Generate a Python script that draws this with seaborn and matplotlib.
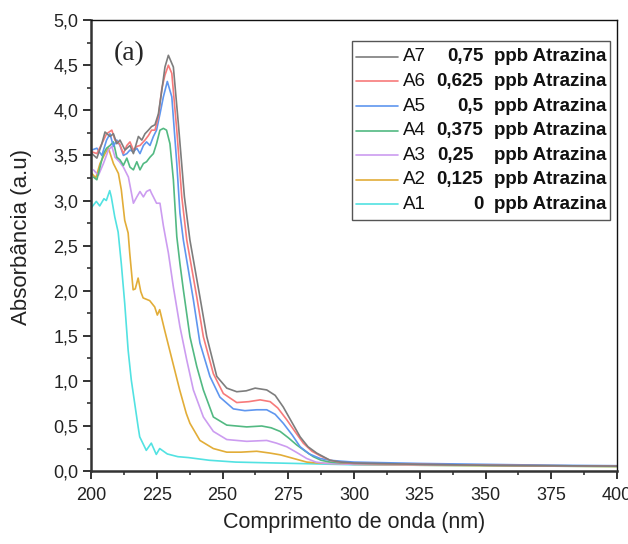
import numpy as np
import pandas as pd
import seaborn as sns
import matplotlib
matplotlib.use("Agg")
import matplotlib.pyplot as plt
from matplotlib.ticker import MultipleLocator, FuncFormatter
from matplotlib.offsetbox import AnchoredOffsetbox, VPacker, DrawingArea
from matplotlib.lines import Line2D
from matplotlib.text import Text

# ---------------- data ----------------
samples = ["A7", "A6", "A5", "A4", "A3", "A2", "A1"]
concentrations = ["0,75", "0,625", "0,5", "0,375", "0,25", "0,125", "0"]
unit_label = "ppb Atrazina"
colors = ["#7d7d7d", "#f77a7a", "#5f96ef", "#52b982", "#cc9cf0", "#e2ad38", "#52e2e2"]

a7_x = [200.3, 202.2, 204.1, 205.3, 207.2, 208.5, 209.8, 211.0, 212.9, 214.8, 216.1, 218.0,
        219.3, 220.5, 221.8, 223.0, 224.3, 225.6, 226.9, 228.1, 229.4, 231.3, 233.2, 235.5,
        237.6, 241.4, 244.0, 247.8, 251.6, 255.4, 259.0, 262.4, 266.8, 270.0, 273.1, 276.0,
        279.5, 282.5, 285.8, 290.9, 295.0, 300.0, 325.0, 350.0, 375.0, 400.0]
a7_y = [3.52, 3.47, 3.63, 3.76, 3.71, 3.74, 3.63, 3.67, 3.56, 3.61, 3.52, 3.71,
        3.67, 3.74, 3.78, 3.82, 3.84, 3.96, 4.22, 4.48, 4.61, 4.48, 3.85, 3.04,
        2.56, 1.93, 1.49, 1.05, 0.92, 0.88, 0.89, 0.92, 0.90, 0.84, 0.71, 0.56,
        0.38, 0.27, 0.20, 0.12, 0.10, 0.09, 0.075, 0.065, 0.06, 0.055]

a6_x = [200.3, 202.2, 204.1, 205.9, 207.9, 209.1, 210.8, 212.3, 213.6, 214.8, 216.1, 217.4,
        218.6, 220.5, 221.8, 223.0, 224.3, 225.6, 226.9, 228.1, 229.4, 230.7, 232.6, 234.5,
        236.4, 240.2, 242.7, 246.5, 250.3, 255.4, 260.0, 264.3, 268.1, 271.0, 274.4, 277.5,
        280.7, 284.0, 287.1, 290.9, 295.0, 300.0, 325.0, 350.0, 375.0, 400.0]
a6_y = [3.54, 3.52, 3.63, 3.74, 3.78, 3.67, 3.63, 3.52, 3.61, 3.65, 3.56, 3.60,
        3.61, 3.67, 3.72, 3.78, 3.78, 3.93, 4.24, 4.39, 4.50, 4.41, 3.78, 3.04,
        2.56, 1.93, 1.49, 1.08, 0.86, 0.76, 0.77, 0.79, 0.77, 0.70, 0.57, 0.44,
        0.31, 0.22, 0.17, 0.12, 0.095, 0.085, 0.075, 0.065, 0.06, 0.055]

a5_x = [200.3, 202.2, 204.1, 205.9, 207.2, 208.5, 209.8, 211.0, 212.3, 213.6, 214.8, 216.1,
        217.4, 218.6, 219.9, 221.1, 222.4, 223.7, 224.9, 226.2, 227.5, 229.0, 230.7, 232.6,
        233.8, 235.1, 238.9, 241.4, 245.2, 249.0, 254.1, 258.5, 263.0, 266.8, 270.0, 273.1,
        276.5, 279.5, 283.0, 287.1, 290.9, 295.0, 300.0, 325.0, 350.0, 375.0, 400.0]
a5_y = [3.56, 3.58, 3.50, 3.67, 3.74, 3.60, 3.67, 3.61, 3.50, 3.52, 3.56, 3.54,
        3.58, 3.52, 3.61, 3.65, 3.61, 3.71, 3.78, 3.96, 4.15, 4.32, 4.15, 3.41,
        2.86, 2.56, 1.90, 1.42, 1.05, 0.82, 0.69, 0.67, 0.68, 0.68, 0.63, 0.53,
        0.40, 0.27, 0.19, 0.14, 0.12, 0.11, 0.10, 0.085, 0.075, 0.065, 0.06]

a4_x = [200.9, 202.2, 203.4, 204.7, 205.9, 207.2, 208.5, 209.8, 211.0, 212.3, 213.6, 214.8,
        216.1, 217.4, 218.6, 219.9, 221.1, 222.4, 223.7, 224.9, 226.2, 227.5, 228.7, 230.0,
        231.3, 232.6, 233.8, 235.1, 237.6, 240.2, 242.7, 246.5, 251.6, 259.2, 264.9, 268.5,
        271.9, 275.0, 278.2, 281.5, 284.5, 287.5, 290.9, 295.0, 300.0, 325.0, 350.0, 375.0, 400.0]
a4_y = [3.26, 3.23, 3.37, 3.52, 3.58, 3.61, 3.65, 3.48, 3.45, 3.39, 3.47, 3.37,
        3.34, 3.43, 3.34, 3.41, 3.43, 3.48, 3.52, 3.63, 3.78, 3.80, 3.78, 3.63,
        3.23, 2.60, 2.30, 2.01, 1.49, 1.16, 0.90, 0.60, 0.51, 0.49, 0.50, 0.48,
        0.44, 0.37, 0.29, 0.22, 0.16, 0.12, 0.10, 0.09, 0.085, 0.075, 0.065, 0.06, 0.055]

a3_x = [200.9, 202.8, 204.7, 206.6, 207.9, 209.1, 210.8, 212.3, 214.2, 216.1, 217.4, 218.6,
        219.9, 221.1, 222.4, 223.0, 223.7, 224.9, 226.2, 227.5, 228.5, 229.4, 231.3, 233.8,
        236.4, 238.9, 242.7, 246.5, 251.6, 259.2, 266.8, 270.5, 274.4, 278.0, 282.0, 285.5,
        289.6, 295.0, 300.0, 325.0, 350.0, 375.0, 400.0]
a3_y = [3.34, 3.28, 3.41, 3.56, 3.60, 3.48, 3.43, 3.37, 3.26, 2.97, 3.04, 3.10,
        3.04, 3.10, 3.12, 3.08, 3.04, 2.97, 2.97, 2.72, 2.56, 2.42, 2.04, 1.60,
        1.23, 0.90, 0.60, 0.44, 0.35, 0.33, 0.34, 0.31, 0.27, 0.21, 0.14, 0.10,
        0.085, 0.08, 0.075, 0.07, 0.065, 0.06, 0.055]

a2_x = [200.3, 201.8, 203.4, 205.3, 206.6, 208.5, 210.4, 211.5, 212.8, 214.1, 214.7, 215.3,
        216.0, 216.8, 217.9, 218.9, 219.8, 222.3, 224.2, 225.2, 226.1, 228.0, 229.9, 231.8,
        233.7, 236.2, 237.6, 241.4, 246.5, 251.6, 257.0, 263.0, 268.0, 272.0, 277.0, 282.0,
        286.0, 290.9, 300.0, 325.0, 350.0, 375.0, 400.0]
a2_y = [3.30, 3.25, 3.41, 3.52, 3.58, 3.41, 3.30, 3.12, 2.78, 2.64, 2.42, 2.23,
        2.01, 2.02, 2.14, 1.99, 1.92, 1.89, 1.82, 1.73, 1.79, 1.56, 1.34, 1.12,
        0.90, 0.64, 0.53, 0.34, 0.25, 0.21, 0.21, 0.22, 0.20, 0.18, 0.14, 0.10,
        0.09, 0.085, 0.075, 0.065, 0.06, 0.055, 0.05]

a1_x = [200.1, 202.0, 203.3, 204.9, 205.8, 207.1, 207.7, 209.0, 210.3, 211.5, 212.8, 214.1,
        215.3, 216.6, 217.9, 218.5, 221.0, 222.9, 224.8, 226.1, 229.0, 233.0, 237.0, 245.0,
        255.0, 270.0, 285.0, 300.0, 325.0, 350.0, 375.0, 400.0]
a1_y = [2.92, 2.99, 2.94, 3.02, 3.00, 3.11, 3.04, 2.82, 2.65, 2.30, 1.86, 1.34,
        1.01, 0.75, 0.49, 0.38, 0.23, 0.31, 0.185, 0.25, 0.19, 0.16, 0.15, 0.12,
        0.10, 0.09, 0.08, 0.07, 0.065, 0.06, 0.055, 0.05]

series_x = [a7_x, a6_x, a5_x, a4_x, a3_x, a2_x, a1_x]
series_y = [a7_y, a6_y, a5_y, a4_y, a3_y, a2_y, a1_y]

frames = []
for name, xs, ys in zip(samples, series_x, series_y):
    frames.append(pd.DataFrame({"nm": xs, "abs": ys, "amostra": name}))
df = pd.concat(frames, ignore_index=True)

# ---------------- styling ----------------
sns.set_style("ticks")
plt.rcParams["font.family"] = ["Liberation Sans", "DejaVu Sans"]

fig = plt.figure(figsize=(6.28, 5.44), dpi=100)
ax = fig.add_axes([0.145, 0.134, 0.8375, 0.829])

palette = dict(zip(samples, colors))
sns.lineplot(data=df, x="nm", y="abs", hue="amostra", hue_order=samples[::-1],
             palette=palette, estimator=None, sort=False, legend=False,
             linewidth=1.2, ax=ax)

ax.set_xlim(200, 400)
ax.set_ylim(0, 5.0)
ax.xaxis.set_major_locator(MultipleLocator(25))
ax.xaxis.set_minor_locator(MultipleLocator(12.5))
ax.yaxis.set_major_locator(MultipleLocator(0.5))
ax.yaxis.set_minor_locator(MultipleLocator(0.25))
ax.yaxis.set_major_formatter(FuncFormatter(lambda v, p: f"{v:.1f}".replace(".", ",")))
ax.xaxis.set_major_formatter(FuncFormatter(lambda v, p: f"{v:.0f}"))

ax.tick_params(which="major", direction="out", length=5.8, width=1.4, color="#333333",
               labelsize=13, labelcolor="#222222", top=False, right=False)
ax.tick_params(which="minor", direction="out", length=3.2, width=1.2, color="#333333",
               top=False, right=False)
ax.tick_params(axis="x", which="major", pad=6)
for side in ["left", "bottom"]:
    ax.spines[side].set_linewidth(1.8)
    ax.spines[side].set_color("#333333")
for side in ["top", "right"]:
    ax.spines[side].set_visible(True)
    ax.spines[side].set_linewidth(1.0)
    ax.spines[side].set_color("#111111")

ax.set_xlabel("Comprimento de onda (nm)", fontsize=15.5, color="#222222")
ax.set_ylabel("Absorbância (a.u)", fontsize=16, color="#222222")
ax.xaxis.set_label_coords(0.5, -0.091)
ax.yaxis.set_label_coords(-0.112, 0.52)

ax.text(0.072, 0.925, "(a)", transform=ax.transAxes, fontsize=20,
        family=["Liberation Serif", "DejaVu Serif"], ha="center", va="center")

# ---------------- legend (line | sample | concentration | unit) ----------------
px = 72.0 / 100.0  # points per pixel
row_w, row_h = 251 * px, 24.6 * px
fs = 13.5
rows = []
for name, conc, col in zip(samples, concentrations, colors):
    da = DrawingArea(row_w, row_h, 0, 0, clip=False)
    da.add_artist(Line2D([0 * px, 42 * px], [row_h / 2, row_h / 2], color=col, lw=1.2))
    da.add_artist(Text(47.5 * px, row_h / 2, name, fontsize=fs, va="center", ha="left",
                       color="#111111"))
    if conc == "0,25":
        da.add_artist(Text(81.5 * px, row_h / 2, conc, fontsize=fs, fontweight="bold",
                           va="center", ha="left", color="#111111"))
    else:
        da.add_artist(Text(127.5 * px, row_h / 2, conc, fontsize=fs, fontweight="bold",
                           va="center", ha="right", color="#111111"))
    da.add_artist(Text(138.5 * px, row_h / 2, unit_label, fontsize=fs, fontweight="bold",
                       va="center", ha="left", color="#111111"))
    rows.append(da)

pack = VPacker(children=rows, align="left", pad=0, sep=0)
anch = AnchoredOffsetbox(loc="upper right", child=pack, pad=0.25, borderpad=0.0,
                         frameon=True, bbox_to_anchor=(0.987, 0.9535),
                         bbox_transform=ax.transAxes)
anch.patch.set_edgecolor("#555555")
anch.patch.set_linewidth(1.0)
anch.patch.set_facecolor("white")
ax.add_artist(anch)

fig.savefig("out.png", dpi=100)
